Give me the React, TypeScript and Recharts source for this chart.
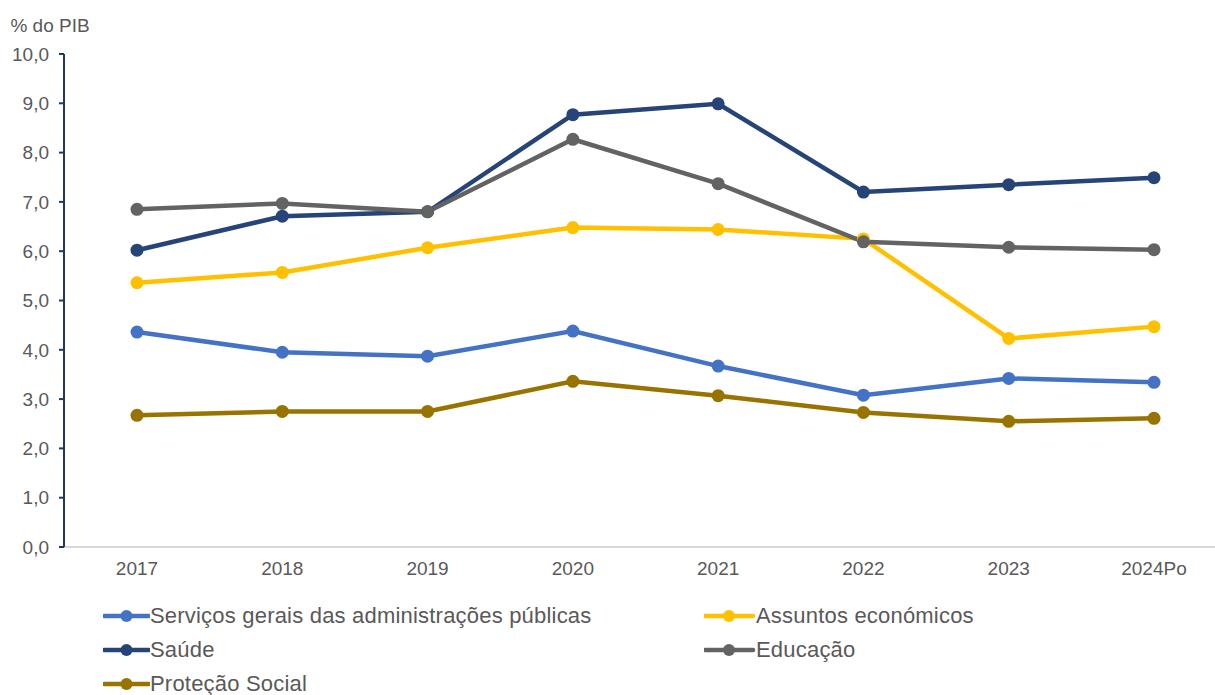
import { LineChart, Line, XAxis, YAxis, Legend } from 'recharts'

const years = ['2017', '2018', '2019', '2020', '2021', '2022', '2023', '2024Po']
const servicos = [4.36, 3.95, 3.87, 4.38, 3.67, 3.08, 3.42, 3.34]
const assuntos = [5.36, 5.57, 6.07, 6.48, 6.44, 6.25, 4.23, 4.47]
const saude = [6.02, 6.71, 6.8, 8.77, 8.99, 7.2, 7.35, 7.49]
const educacao = [6.85, 6.97, 6.8, 8.27, 7.37, 6.19, 6.08, 6.03]
const protecao = [2.67, 2.75, 2.75, 3.36, 3.07, 2.73, 2.55, 2.61]
const yTicks = [0, 1, 2, 3, 4, 5, 6, 7, 8, 9, 10]

const series = [
  { key: 'servicos', name: 'Serviços gerais das administrações públicas', color: '#4472C4', values: servicos },
  { key: 'assuntos', name: 'Assuntos económicos', color: '#FFC000', values: assuntos },
  { key: 'saude', name: 'Saúde', color: '#264478', values: saude },
  { key: 'educacao', name: 'Educação', color: '#636363', values: educacao },
  { key: 'protecao', name: 'Proteção Social', color: '#997300', values: protecao },
]

const data = years.map((year, i) => {
  const row: Record<string, string | number> = { year }
  series.forEach((s) => {
    row[s.key] = s.values[i]
  })
  return row
})

const FONT = '"Liberation Sans", Arial, sans-serif'

function LegendContent() {
  return (
    <div
      style={{
        position: 'relative',
        width: 1215,
        height: 100,
        fontFamily: FONT,
        fontSize: 22,
        color: '#595959',
      }}
    >
      {series.map((s, i) => (
        <div
          key={s.key}
          style={{
            position: 'absolute',
            left: i % 2 === 0 ? 103 : 704,
            top: 7 + Math.floor(i / 2) * 34,
            display: 'flex',
            alignItems: 'center',
            height: 28,
            whiteSpace: 'nowrap',
            letterSpacing: 0.2,
          }}
        >
          <svg width={i % 2 === 0 ? 47 : 52} height={16}>
            <line x1={1} y1={8} x2={i % 2 === 0 ? 46 : 49} y2={8} stroke={s.color} strokeWidth={4.5} strokeLinecap="round" />
            <circle cx={i % 2 === 0 ? 23.5 : 25} cy={8} r={6} fill={s.color} />
          </svg>
          <span>{s.name}</span>
        </div>
      ))}
    </div>
  )
}

export default function App() {
  return (
    <div style={{ position: 'absolute', left: 0, top: 0, width: 1215, height: 695, overflow: 'hidden', background: '#fff' }}>
      <LineChart
        width={1240}
        height={695}
        data={data}
        margin={{ top: 54, right: 13, bottom: 0, left: 0 }}
        style={{ fontFamily: FONT }}
      >
        <XAxis
          dataKey="year"
          height={48}
          padding={{ left: 73, right: 73 }}
          tickLine={false}
          axisLine={{ stroke: '#D9D9D9', strokeWidth: 2 }}
          tick={{ fill: '#595959', fontSize: 19 }}
          tickMargin={9}
          interval={0}
        />
        <YAxis
          width={64}
          domain={[0, 10]}
          ticks={yTicks}
          interval={0}
          tickFormatter={(v: number) => v.toFixed(1).replace('.', ',')}
          axisLine={{ stroke: '#1F3864', strokeWidth: 2 }}
          tickLine={{ stroke: '#1F3864', strokeWidth: 2 }}
          tickSize={5}
          tickMargin={10}
          tick={{ fill: '#595959', fontSize: 19 }}
          label={{ value: '% do PIB', position: 'top', offset: 22, dx: 18, fill: '#595959', fontSize: 19 }}
        />
        <Legend verticalAlign="bottom" align="left" content={() => <LegendContent />} />
        {series.map((s) => (
          <Line
            key={s.key}
            type="linear"
            dataKey={s.key}
            name={s.name}
            stroke={s.color}
            strokeWidth={4.5}
            dot={{ r: 6.5, fill: s.color, stroke: s.color, strokeWidth: 0 }}
            isAnimationActive={false}
          />
        ))}
      </LineChart>
    </div>
  )
}
